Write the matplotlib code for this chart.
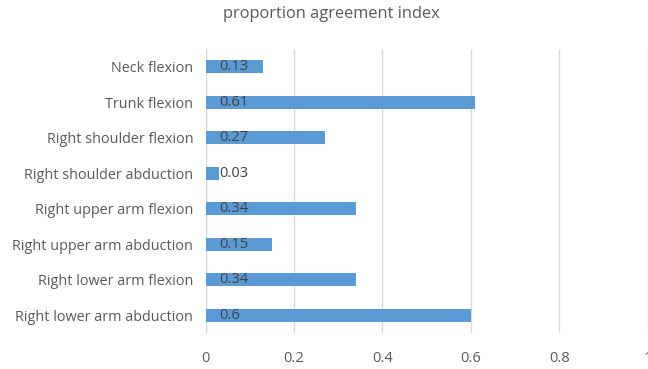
import matplotlib
matplotlib.use("Agg")
import matplotlib.pyplot as plt

plt.rcParams['font.family'] = ['Open Sans', 'DejaVu Sans']

# data, top to bottom as in the reference
joints = ["Neck flexion", "Trunk flexion", "Right shoulder flexion",
          "Right shoulder abduction", "Right upper arm flexion",
          "Right upper arm abduction", "Right lower arm flexion",
          "Right lower arm abduction"]
pai = [0.13, 0.61, 0.27, 0.03, 0.34, 0.15, 0.34, 0.6]
xticks = [0, 0.2, 0.4, 0.6, 0.8, 1]
xtick_labels = ["0", "0.2", "0.4", "0.6", "0.8", "1"]

bar_color = '#5B9BD5'
text_color = '#595959'
grid_color = '#D9D9D9'

fig = plt.figure(figsize=(6.48, 3.69), dpi=100)
ax = fig.add_axes([0.3174, 0.0976, 0.682, 0.7696])

ypos = list(range(len(joints)))
ax.barh(ypos, pai, height=0.37, color=bar_color, zorder=3)
ax.set_ylim(len(joints) - 0.5, -0.5)
ax.set_xlim(0, 1)

for y, v in zip(ypos, pai):
    ax.annotate(f"{v:g}", xy=(0, y), xytext=(9.5, 0), textcoords='offset points',
                va='center', ha='left', fontsize=10.5, color='#404040', zorder=4)

ax.set_yticks(ypos)
ax.set_yticklabels(joints, fontsize=10.4, color=text_color)
ax.set_xticks(xticks)
ax.set_xticklabels(xtick_labels, fontsize=10.5, color=text_color)
ax.tick_params(axis='both', length=0)
ax.tick_params(axis='y', pad=9)
ax.tick_params(axis='x', pad=13)

ax.xaxis.grid(True, color=grid_color, linewidth=1, zorder=0)
for s in ax.spines.values():
    s.set_visible(False)
ax.axvline(0, color=grid_color, linewidth=1, zorder=1)

fig.text(331 / 648, 1 - 14 / 369, "proportion agreement index", ha='center', va='center',
         fontsize=11.8, color=text_color)

fig.savefig("out.png", dpi=100)
